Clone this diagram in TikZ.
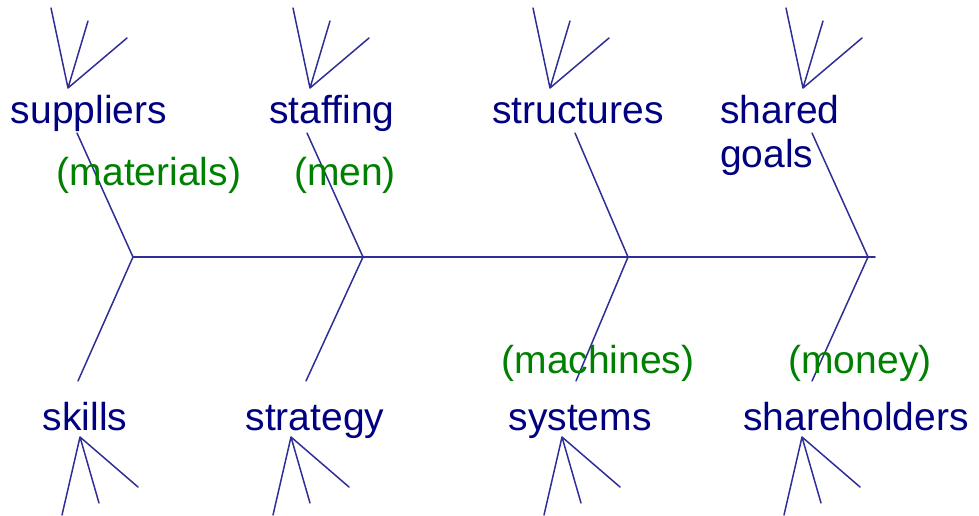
\documentclass[tikz,border=0pt]{standalone}
\usepackage{fontspec}
\setmainfont{Liberation Sans}
\definecolor{bonec}{RGB}{46,46,150}
\definecolor{causec}{RGB}{0,0,128}
\definecolor{tagc}{RGB}{0,128,0}
\begin{document}
\begin{tikzpicture}[x=1pt, y=-1pt, every node/.style={font=\fontsize{39}{44}\selectfont, inner sep=0pt, anchor=base}]
\tikzset{bone/.style={draw=bonec, line width=1.5pt, line cap=round}, cause/.style={text=causec}, tag/.style={text=tagc}}
\useasboundingbox (0,0) rectangle (979,515);
% spine
\foreach \n/\x in {1/133,2/363,3/628,4/868} \coordinate (j\n) at (\x,257);
\coordinate (head) at (875,257);
\draw[bone] (j1) -- (head);
% upper bones and their fans
\foreach \n/\x/\a in {1/77/68,2/307/310,3/575/550,4/812/803} {
  \coordinate (t\n) at (\x,133); \coordinate (ta\n) at (\a,88);
  \draw[bone] (j\n) -- (t\n);
  \draw[bone] (ta\n) -- ++(-17,-80) (ta\n) -- ++(20,-67) (ta\n) -- ++(59,-50);
}
% lower bones and their fans
\foreach \n/\x/\a in {1/78/80,2/306/291,3/576/562,4/812/802} {
  \coordinate (b\n) at (\x,381); \coordinate (ba\n) at (\a,437);
  \draw[bone] (j\n) -- (b\n);
  \draw[bone] (ba\n) -- ++(-18,78) (ba\n) -- ++(19,66) (ba\n) -- ++(58,50);
}
% causes
\node[cause] (suppliers) at (89,123) {suppliers};
\node[cause] (staffing) at (332,123) {staffing};
\node[cause] (structures) at (578,123) {structures};
\node[cause, align=left, anchor=base west] (goals) at (720,167) {shared\\goals};
\node[cause] (skills) at (85,430) {skills};
\node[cause] (strategy) at (315,430) {strategy};
\node[cause] (systems) at (580,430) {systems};
\node[cause] (shareholders) at (856,430) {shareholders};
% the four Ms
\node[tag] (materials) at (149,185) {(materials)};
\node[tag] (men) at (345,185) {(men)};
\node[tag] (machines) at (598,373) {(machines)};
\node[tag] (money) at (860,373) {(money)};
\end{tikzpicture}
\end{document}
